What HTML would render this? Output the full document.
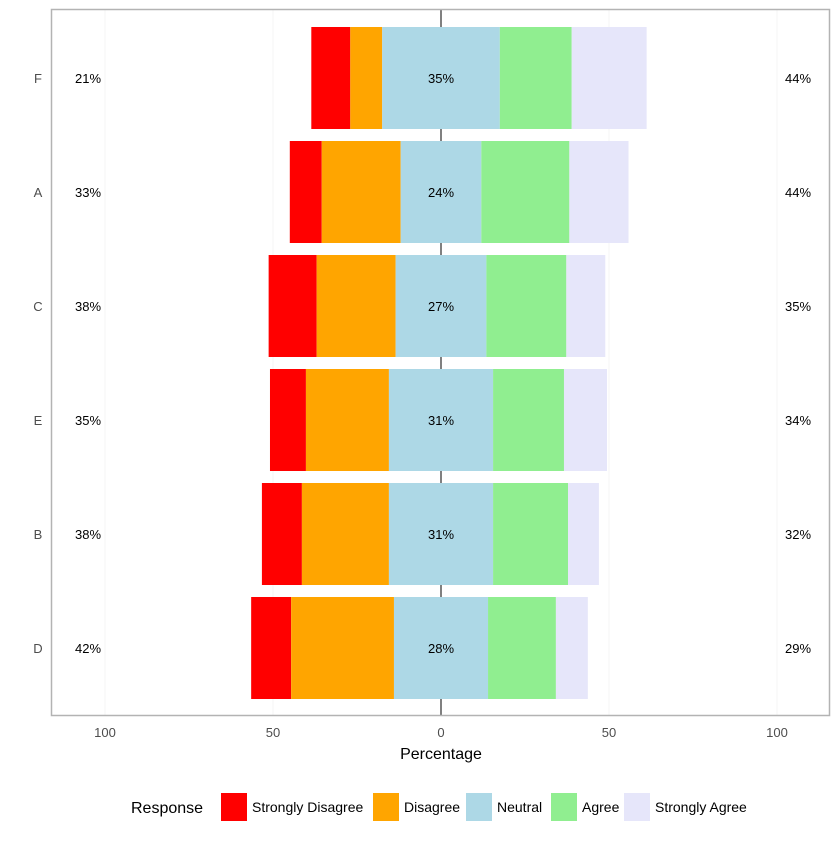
<!DOCTYPE html>
<html><head><meta charset="utf-8"><style>
body{margin:0;background:#fff;font-family:"Liberation Sans",Arial,sans-serif;}
svg text{font-family:"Liberation Sans",Arial,sans-serif;}
</style></head><body>
<svg id="chart" width="840" height="839" xmlns="http://www.w3.org/2000/svg">
<rect x="0" y="0" width="840" height="839" fill="#fff"/>
<g id="grid"></g>
<line x1="441" y1="9" x2="441" y2="716" stroke="#000" stroke-width="1"/>
<g id="bars"></g>
<g id="labels"></g>
<rect x="51.5" y="9.5" width="778" height="706" fill="none" stroke="#b3b3b3" stroke-width="1.5"/>
<g id="axis"></g>
<text x="441" y="759" text-anchor="middle" font-size="16" fill="#000">Percentage</text>
<g id="legend"></g>
</svg>
<script>
const categories=["F","A","C","E","B","D"];
const stronglyDisagree=[11.6,9.5,14.3,10.7,11.9,11.9];
const disagree=[9.5,23.5,23.5,24.7,25.9,30.6];
const neutral=[35,24,27,31,31,28];
const agree=[21.4,26.2,23.8,21.1,22.3,20.2];
const stronglyAgree=[22.3,17.6,11.6,12.8,9.2,9.5];
const leftLabels=["21%","33%","38%","35%","38%","42%"];
const midLabels=["35%","24%","27%","31%","31%","28%"];
const rightLabels=["44%","44%","35%","34%","32%","29%"];
const xTicks=[-100,-50,0,50,100];
const xTickLabels=["100","50","0","50","100"];
const colors=["#ff0000","#ffa500","#add8e6","#90ee90","#e6e6fa"];
const names=["Strongly Disagree","Disagree","Neutral","Agree","Strongly Agree"];
const NS="http://www.w3.org/2000/svg";
const x=v=>441+v*3.36;
const yc=i=>78+i*114;
function mk(t,a,p){const e=document.createElementNS(NS,t);for(const k in a)e.setAttribute(k,a[k]);p.appendChild(e);return e;}
const grid=document.getElementById('grid'),bars=document.getElementById('bars'),labels=document.getElementById('labels'),axis=document.getElementById('axis'),legend=document.getElementById('legend');
xTicks.forEach((t,i)=>{
 const g=mk('line',{x1:x(t),x2:x(t),y1:9,y2:716,stroke:'#f4f4f4','stroke-width':1},grid);
 
 
 const tx=mk('text',{x:x(t),y:737,'text-anchor':'middle','font-size':13,fill:'#4d4d4d'},axis);
 tx.textContent=xTickLabels[i];
 
 
});
categories.forEach((c,i)=>{
 const cy=yc(i),h=102,y0=cy-h/2;
 const n=neutral[i];
 const segs=[
  [-(n/2+disagree[i]+stronglyDisagree[i]),stronglyDisagree[i]],
  [-(n/2+disagree[i]),disagree[i]],
  [-n/2,n],
  [n/2,agree[i]],
  [n/2+agree[i],stronglyAgree[i]]];
 segs.forEach((s,j)=>{
  const r=mk('rect',{x:x(s[0]),y:y0,width:s[1]*3.36,height:h,fill:colors[j]},bars);
  
  
 });
 const cl=mk('text',{x:38,y:cy+5,'text-anchor':'middle','font-size':13,fill:'#4d4d4d'},labels);cl.textContent=c;
 
 
 [[88,leftLabels[i],'left-percent'],[441,midLabels[i],'neutral-percent'],[798,rightLabels[i],'right-percent']].forEach(a=>{
  const t=mk('text',{x:a[0],y:cy+5,'text-anchor':'middle','font-size':13,fill:'#000'},labels);t.textContent=a[1];
  
  
 });
});
const lt=mk('text',{x:131,y:813,'font-size':16,fill:'#000'},legend);lt.textContent='Response';


const lx=[221,373,466,551,624];
names.forEach((n,j)=>{
 const r=mk('rect',{x:lx[j],y:793,width:26,height:28,fill:colors[j]},legend);
 
 
 const t=mk('text',{x:lx[j]+31,y:812,'font-size':14,fill:'#000'},legend);t.textContent=n;
 
 
});
</script>
</body></html>
